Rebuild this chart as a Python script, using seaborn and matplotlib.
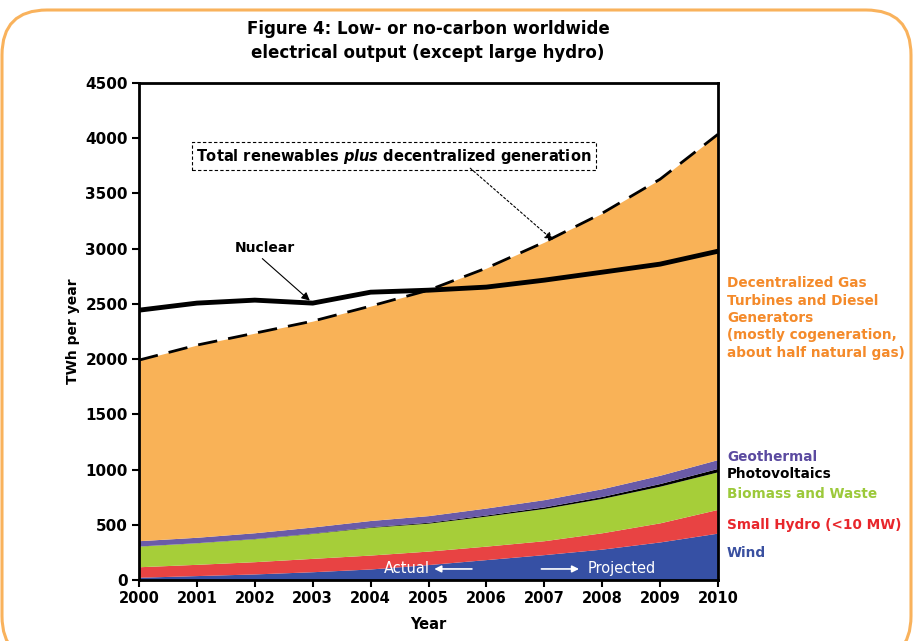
import numpy as np
import pandas as pd
import matplotlib
matplotlib.use('Agg')
import matplotlib.pyplot as plt
import seaborn as sns
from matplotlib.patches import FancyBboxPatch

# values (TWh per year)
years = [2000, 2001, 2002, 2003, 2004, 2005, 2006, 2007, 2008, 2009, 2010]
wind = [25, 40, 55, 75, 100, 140, 185, 230, 280, 345, 425]
small_hydro = [95, 102, 111, 121, 126, 122, 122, 126, 148, 173, 215]
biomass = [187, 195, 208, 226, 251, 253, 272, 292, 311, 332, 340]
photovoltaics = [1, 1, 2, 3, 5, 8, 10, 14, 18, 24, 31]
geothermal = [48, 49, 52, 55, 57, 60, 63, 66, 70, 75, 80]
decentralized = [1635, 1740, 1807, 1864, 1941, 2041, 2172, 2331, 2494, 2680, 2945]
nuclear = [2443, 2507, 2534, 2507, 2606, 2624, 2652, 2715, 2787, 2860, 2977]

c_wind = '#3650A4'
c_hydro = '#E84343'
c_bio = '#A6CE39'
c_pv = '#000000'
c_geo = '#6A5BA8'
c_dec = '#F9B257'

df = pd.DataFrame({'year': years, 'wind': wind, 'small_hydro': small_hydro,
                   'biomass': biomass, 'pv': photovoltaics, 'geothermal': geothermal,
                   'decentralized': decentralized, 'nuclear': nuclear})
df['total'] = df[['wind', 'small_hydro', 'biomass', 'pv', 'geothermal', 'decentralized']].sum(axis=1)

sns.set_style('white', {'xtick.bottom': True, 'ytick.left': True,
                        'text.color': 'black', 'axes.labelcolor': 'black',
                        'xtick.color': 'black', 'ytick.color': 'black'})
plt.rcParams['font.family'] = ['DejaVu Sans']
plt.rcParams['mathtext.fontset'] = 'dejavusans'

fig = plt.figure(figsize=(9.13, 6.41), dpi=100)
ax = fig.add_axes([139 / 913, 1 - 580 / 641, 579 / 913, 497 / 641])

ax.stackplot(df['year'], df['wind'], df['small_hydro'], df['biomass'], df['pv'],
             df['geothermal'], df['decentralized'],
             colors=[c_wind, c_hydro, c_bio, c_pv, c_geo, c_dec], linewidth=0)

sns.lineplot(x='year', y='total', data=df, ax=ax, color='black', lw=2,
             zorder=4).lines[-1].set_dashes([7, 4])
sns.lineplot(x='year', y='nuclear', data=df, ax=ax, color='black', lw=3.5,
             zorder=5)

ax.set_xlim(2000, 2010)
ax.set_ylim(0, 4500)
ax.set_xticks(years)
ax.set_xticklabels([str(y) for y in years], fontsize=10.5, fontweight='bold')
ax.set_yticks(range(0, 4501, 500))
ax.set_yticklabels([str(v) for v in range(0, 4501, 500)], fontsize=11, fontweight='bold')
ax.tick_params(axis='both', direction='out', length=5, width=1.5, color='black',
               left=True, bottom=True, pad=3)
for s in ax.spines.values():
    s.set_color('black')
    s.set_linewidth(2)
ax.set_xlabel('Year', fontsize=10.5, fontweight='bold', labelpad=8)
ax.set_ylabel('TWh per year', fontsize=10, fontweight='bold', labelpad=4)

fig.text(428 / 913, 1 - 41 / 641, 'Figure 4: Low- or no-carbon worldwide\nelectrical output (except large hydro)',
         ha='center', va='center', fontsize=12, fontweight='bold', linespacing=1.45)

# annotations
ax.text(2002.18, 3005, 'Nuclear', ha='center', va='center', fontsize=10, fontweight='bold')
ax.annotate('', xy=(2002.95, 2530), xytext=(2002.13, 2910),
            arrowprops=dict(arrowstyle='-|>', color='black', lw=0.8, mutation_scale=12,
                            shrinkA=0, shrinkB=0))
ax.text(2004.4, 3837, 'Total renewables $\\mathbfit{plus}$ decentralized generation',
        ha='center', va='center', fontsize=10.5, fontweight='bold',
        bbox=dict(boxstyle='square,pad=0.3', fc='white', ec='black', lw=0.8, ls=(0, (3, 2))))
ax.annotate('', xy=(2007.15, 3077), xytext=(2005.72, 3729),
            arrowprops=dict(arrowstyle='-|>', color='black', lw=0.8, ls=(0, (2, 2)),
                            mutation_scale=12, shrinkA=0, shrinkB=0))

ax.annotate('', xy=(2005.1, 100), xytext=(2005.75, 100),
            arrowprops=dict(arrowstyle='-|>', color='white', lw=1.2, mutation_scale=10,
                            shrinkA=0, shrinkB=0))
ax.text(2005.02, 100, 'Actual', ha='right', va='center', color='white', fontsize=10.5)
ax.annotate('', xy=(2007.6, 100), xytext=(2006.95, 100),
            arrowprops=dict(arrowstyle='-|>', color='white', lw=1.2, mutation_scale=10,
                            shrinkA=0, shrinkB=0))
ax.text(2007.75, 100, 'Projected', ha='left', va='center', color='white', fontsize=10.5)

# series labels on the right
lx = 727 / 913
def flabel(ypix, txt, col):
    fig.text(lx, 1 - ypix / 641, txt, ha='left', va='center', fontsize=9.8,
             fontweight='bold', color=col, linespacing=1.3)

flabel(318, 'Decentralized Gas\nTurbines and Diesel\nGenerators\n(mostly cogeneration,\nabout half natural gas)', '#F48A2A')
flabel(457, 'Geothermal', '#5B4AA0')
flabel(474, 'Photovoltaics', 'black')
flabel(494, 'Biomass and Waste', '#9CC93A')
flabel(525, 'Small Hydro (<10 MW)', '#E8262B')
flabel(553, 'Wind', '#3A50A0')

# rounded orange frame
frame = FancyBboxPatch((2, -20), 909, 651, boxstyle='round,pad=0,rounding_size=45',
                       transform=None, fc='none', ec='#F9B25C', lw=2.2, zorder=0)
fig.patches.append(frame)

fig.savefig('out.png', dpi=100)
